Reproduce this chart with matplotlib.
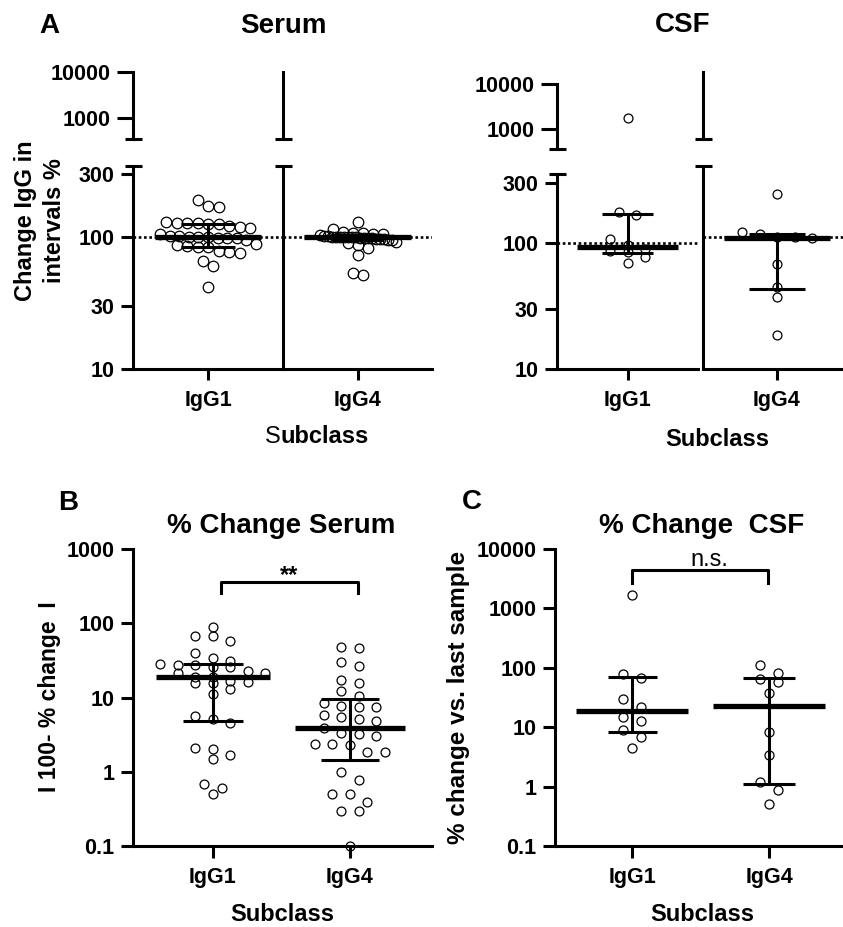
import numpy as np
import matplotlib
matplotlib.use("Agg")
import matplotlib.pyplot as plt
from matplotlib.ticker import FixedLocator, FixedFormatter, NullLocator

# ---------------- data ----------------
subclasses = ["IgG1", "IgG4"]

# Panel A - Serum: change of IgG in intervals (%)
serum_igg1 = [190, 172, 167.6, 130.8, 128.4, 127.5, 127.2, 126.0, 125.6, 121.7, 118.8, 116.1,
              105.1, 102.0, 101.7, 100.6, 99.5, 99.4, 98.3, 98.0, 97.9, 94.9,
              88.9, 87.1, 84.9, 84.4, 83.3, 78.8, 77.6, 76, 66, 60, 42]
serum_igg4 = [130.5, 115.9, 108.4, 107.6, 107.6, 105.4, 104.9, 103.3, 102.4, 102.3, 100.6,
              100.5, 99.9, 99.7, 99.6, 99.5, 99.2, 99.0, 98.1, 98.1, 97.6, 96.8, 96.7, 96.1,
              95.1, 94.2, 92.3, 89.5, 87.7, 82.7, 73.3, 53, 51.4]
# Panel A - CSF
csf_igg1 = [1755, 176, 167, 108, 96, 90, 86, 85, 77, 69]
csf_igg4 = [210, 109, 105, 100, 100, 98, 62, 42, 35, 18]

# Panel B - | 100 - % change | serum
serum_abs_igg1 = [90, 68, 67.6, 57, 40, 34, 30.8, 28.4, 27.5, 27.2, 26, 25.6, 22.4, 21.7, 21.2,
                  19.1, 18.8, 16.7, 16.1, 15.6, 15.6, 12.9, 11.1, 5.65, 5.1, 4.5, 2.1, 2.0, 1.68,
                  1.5, 0.69, 0.60, 0.50]
serum_abs_igg4 = [48.6, 47, 30.5, 26.7, 17.3, 15.9, 12.3, 10.5, 8.4, 7.7, 7.55, 7.55, 5.8, 5.4,
                  5.1, 4.9, 3.9, 3.3, 3.2, 3.07, 2.37, 2.37, 2.27, 1.87, 1.87, 0.98, 0.77, 0.50,
                  0.50, 0.39, 0.30, 0.30, 0.10]
# Panel C - % change vs. last sample (CSF)
csf_abs_igg1 = [1656, 77.2, 67.8, 30, 21.7, 15.1, 12.5, 8.8, 6.96, 4.54]
csf_abs_igg4 = [112, 81.3, 64.4, 58, 37.9, 8.35, 3.42, 1.18, 0.88, 0.50]

a_low_ticks = [10, 30, 100, 300]
a_up_ticks = [1000, 10000]
b_ticks = [0.1, 1, 10, 100, 1000]
c_ticks = [0.1, 1, 10, 100, 1000, 10000]
reference_line = 100

# ---------------- figure ----------------
W, H, DPI = 843, 927, 100
plt.rcParams["font.family"] = ["Liberation Sans", "DejaVu Sans"]
plt.rcParams["font.weight"] = "bold"
plt.rcParams["axes.linewidth"] = 2.2

fig = plt.figure(figsize=(W / DPI, H / DPI), dpi=DPI)
LW_AX = 2.2
LW_ERR = 2.2
LW_MED = 3.8
TICK_FS = 15.5


def px_axes(x0, y0, x1, y1):
    ax = fig.add_axes([x0 / W, 1 - y1 / H, (x1 - x0) / W, (y1 - y0) / H])
    ax.patch.set_visible(False)
    for s in ["top", "right"]:
        ax.spines[s].set_visible(False)
    for s in ["left", "bottom"]:
        ax.spines[s].set_linewidth(LW_AX)
    ax.tick_params(width=LW_AX, labelsize=TICK_FS, colors="k")
    return ax


def ftext(x, y, s, **kw):
    kw.setdefault("ha", "center")
    kw.setdefault("va", "baseline")
    fig.text(x / W, 1 - y / H, s, **kw)


def set_yticks(ax, ticks, labels=True):
    ax.set_yscale("log")
    ax.yaxis.set_major_locator(FixedLocator(ticks))
    ax.yaxis.set_minor_locator(NullLocator())
    if labels:
        ax.yaxis.set_major_formatter(FixedFormatter([f"{t:g}" for t in ticks]))


def swarm_x(ax, xc, vals, step, thr, maxw):
    vals = np.asarray(vals, float)
    ypx = ax.transData.transform(np.column_stack([np.full(len(vals), xc), vals]))[:, 1]
    order = np.argsort(-ypx, kind="stable")
    rows, cur = [], [order[0]]
    for i in order[1:]:
        if ypx[cur[0]] - ypx[i] < thr:
            cur.append(i)
        else:
            rows.append(cur)
            cur = [i]
    rows.append(cur)
    off = np.zeros(len(vals))
    for r in rows:
        n = len(r)
        st = step
        if n > 1 and (n - 1) * step / 2 > maxw:
            st = 2 * maxw / (n - 1)
        for k, i in enumerate(r):
            off[i] = (k - (n - 1) / 2) * st
    x0, x1 = ax.get_xlim()
    return xc + off * (x1 - x0) / ax.bbox.width


def points(ax, xc, vals, step, thr, maxw, ms):
    xs = swarm_x(ax, xc, vals, step, thr, maxw)
    ax.plot(xs, vals, "o", mfc="none", mec="k", mew=0.9, ms=ms, clip_on=False, zorder=3)


def summary(ax, xc, vals, hm, hc):
    q1, med, q3 = np.percentile(vals, [25, 50, 75], method="weibull")
    kw = dict(color="k", solid_capstyle="butt", zorder=4, clip_on=False)
    ax.plot([xc, xc], [q1, q3], lw=LW_ERR, **kw)
    ax.plot([xc - hc, xc + hc], [q1, q1], lw=LW_ERR, **kw)
    ax.plot([xc - hc, xc + hc], [q3, q3], lw=LW_ERR, **kw)
    ax.plot([xc - hm, xc + hm], [med, med], lw=LW_MED, **kw)


def cap(ax, where):
    dx = 8.5 / ax.bbox.width
    y = 1 if where == "top" else 0
    ax.plot([-dx, dx], [y, y], transform=ax.transAxes, color="k", lw=LW_AX,
            solid_capstyle="butt", clip_on=False)


def broken_half(x0, x1, low_px, up_px, low_lim, up_lim, xc, label, show_ticks):
    lo = px_axes(x0, low_px[0], x1, low_px[1])
    up = px_axes(x0, up_px[0], x1, up_px[1])
    for ax, lim, ticks, tl in ((lo, low_lim, a_low_ticks, 8.3), (up, up_lim, a_up_ticks, 11.5)):
        ax.set_xlim(xc - 0.5, xc + 0.5)
        set_yticks(ax, ticks)
        ax.set_ylim(*lim)
        ax.tick_params(axis="y", length=tl, pad=4.8)
        if not show_ticks:
            ax.tick_params(axis="y", left=False, labelleft=False)
    lo.set_xticks([xc])
    lo.set_xticklabels([label])
    lo.tick_params(axis="x", length=8, pad=7)
    up.spines["bottom"].set_visible(False)
    up.set_xticks([])
    cap(lo, "top")
    cap(up, "bottom")
    lo.axhline(reference_line, color="k", lw=1.9, ls=(0, (1, 1)), zorder=2)
    return lo, up


def place(lo, up, xc, vals, step, thr, maxw, ms, hm, hc):
    vals = np.asarray(vals, float)
    lo_top = lo.get_ylim()[1]
    low_vals = vals[vals <= lo_top]
    up_vals = vals[vals > lo_top]
    points(lo, xc, low_vals, step, thr, maxw, ms)
    if len(up_vals):
        points(up, xc, up_vals, step, thr, maxw, ms)
    summary(lo, xc, vals, hm, hc)


# ---------- Panel A: Serum ----------
s_lo1, s_up1 = broken_half(133, 283, (166, 369), (72, 139), (10, 345), (347, 10000), 1, subclasses[0], True)
s_lo2, s_up2 = broken_half(283, 432, (166, 369), (72, 139), (10, 345), (347, 10000), 2, subclasses[1], False)
place(s_lo1, s_up1, 1, serum_igg1, 10.5, 10, 48, 7.6, 0.355, 0.18)
place(s_lo2, s_up2, 2, serum_igg4, 10, 6.5, 38, 7.6, 0.36, 0.18)

# ---------- Panel A: CSF ----------
c_lo1, c_up1 = broken_half(557, 698, (174, 369), (84, 149), (10, 353), (359, 10000), 1, subclasses[0], True)
c_lo2, c_up2 = broken_half(703, 851, (166, 369), (72, 139), (10, 345), (347, 10000), 2, subclasses[1], False)
place(c_lo1, c_up1, 1, csf_igg1, 17.5, 10, 45, 6.4, 0.355, 0.18)
place(c_lo2, c_up2, 2, csf_igg4, 17.5, 10, 45, 6.4, 0.36, 0.186)

# ---------- Panel B ----------
axb = px_axes(133, 549, 432, 846)
axb.set_xlim(0.416, 2.6)
set_yticks(axb, b_ticks)
axb.set_ylim(0.1, 1000)
axb.set_xticks([1, 2])
axb.set_xticklabels(subclasses)
axb.tick_params(axis="y", length=8.4, pad=4.8)
axb.tick_params(axis="x", length=8.4, pad=7)
points(axb, 1, serum_abs_igg1, 17.5, 9, 55, 6.4)
points(axb, 2, serum_abs_igg4, 17.5, 9, 55, 6.4)
summary(axb, 1, serum_abs_igg1, 0.415, 0.22)
summary(axb, 2, serum_abs_igg4, 0.4, 0.21)
axb.plot([1.058, 1.058, 2.058, 2.058], [257, 361, 361, 257], color="k", lw=LW_AX, clip_on=False)
axb.text(1.555, 361, "**", ha="center", va="baseline", fontsize=17, fontweight="bold")

# ---------- Panel C ----------
axc = px_axes(555, 549, 854, 846)
axc.set_xlim(0.435, 2.62)
set_yticks(axc, c_ticks)
axc.set_ylim(0.1, 10000)
axc.set_xticks([1, 2])
axc.set_xticklabels(subclasses)
axc.tick_params(axis="y", length=8.4, pad=4.8)
axc.tick_params(axis="x", length=8.4, pad=7)
points(axc, 1, csf_abs_igg1, 18, 9, 55, 6.5)
points(axc, 2, csf_abs_igg4, 18, 9, 55, 6.5)
summary(axc, 1, csf_abs_igg1, 0.41, 0.18)
summary(axc, 2, csf_abs_igg4, 0.41, 0.19)
axc.plot([1.0, 1.0, 1.99, 1.99], [2722, 4510, 4510, 2722], color="k", lw=LW_AX, clip_on=False)
axc.text(1.565, 5100, "n.s.", ha="center", va="baseline", fontsize=17, fontweight="normal")

# ---------- texts ----------
ftext(49, 33, "A", fontsize=20)
ftext(283, 33, "Serum", fontsize=20)
ftext(683, 32.5, "CSF", fontsize=20)
ftext(68, 509.5, "B", fontsize=20)
ftext(281, 533, "% Change Serum", fontsize=20)
ftext(472, 509, "C", fontsize=20)
ftext(702, 533, "% Change  CSF", fontsize=20)

ftext(280.5, 443, "S", ha="right", fontsize=17, fontweight="normal")
ftext(280.5, 443, "ubclass", ha="left", fontsize=17)
ftext(717, 446, "Subclass", fontsize=17)
ftext(282, 921, "Subclass", fontsize=17)
ftext(702, 921, "Subclass", fontsize=17)

ftext(40, 221, "Change IgG in\nintervals %", rotation=90, va="center", fontsize=17, linespacing=1.28)
ftext(50, 697, "I 100- % change  I", rotation=90, va="center", fontsize=16.5)
ftext(459, 697, "% change vs. last sample", rotation=90, va="center", fontsize=17.5)

fig.savefig("out.png", dpi=DPI)
